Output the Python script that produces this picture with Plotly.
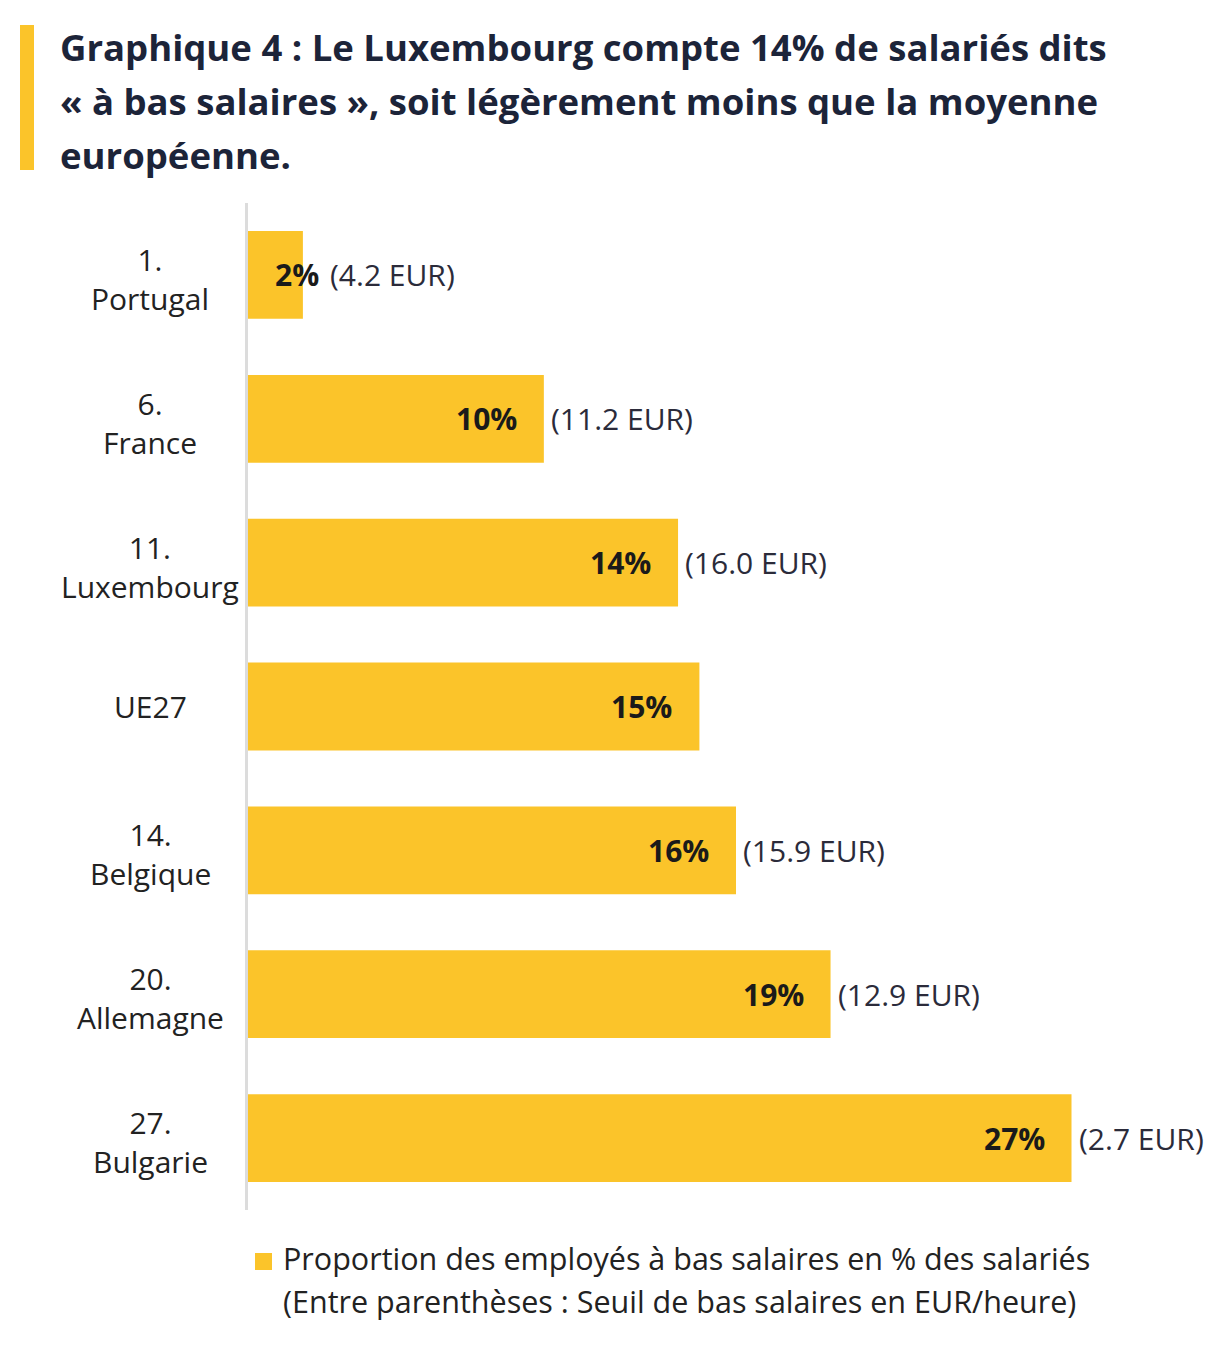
import plotly.graph_objects as go

# data
ranks = ["1.", "6.", "11.", "", "14.", "20.", "27."]
countries = ["Portugal", "France", "Luxembourg", "UE27", "Belgique", "Allemagne", "Bulgarie"]
share = [1.8, 9.7, 14.1, 14.8, 16.0, 19.1, 27.0]
share_labels = ["2%", "10%", "14%", "15%", "16%", "19%", "27%"]
threshold_labels = ["(4.2 EUR)", "(11.2 EUR)", "(16.0 EUR)", "", "(15.9 EUR)", "(12.9 EUR)", "(2.7 EUR)"]
title_lines = ["Graphique 4 : Le Luxembourg compte 14% de salariés dits",
               "« à bas salaires », soit légèrement moins que la moyenne",
               "européenne."]
legend_lines = ["Proportion des employés à bas salaires en % des salariés",
                "(Entre parenthèses : Seuil de bas salaires en EUR/heure)"]

YELLOW = "#FBC42A"
FONT = "Open Sans"
PW, PH = 915, 1007  # plot area in px


def px(sx):  # screen x -> paper
    return (sx - 248) / PW


def py(sy):  # screen y -> paper
    return (1210 - sy) / PH


fig = go.Figure()
fig.add_trace(go.Bar(
    y=countries, x=share, orientation="h",
    marker=dict(color=YELLOW, line=dict(width=0)),
    name=legend_lines[0],
    hoverinfo="x+y", showlegend=False,
))

annotations = []
for rk, c, v, sl, tl in zip(ranks, countries, share, share_labels, threshold_labels):
    # category label, centred on two lines
    lab = f"{rk}<br>{c}" if rk else c
    annotations.append(dict(x=px(150), xref="paper", y=c, yref="y", text=lab,
                            showarrow=False, xanchor="center", align="center",
                            yshift=-4 if rk else 0,
                            font=dict(family=FONT, size=30, color="#222222")))
    small = v < 3
    annotations.append(dict(x=v, y=c, text=f"<b>{sl}</b>", showarrow=False,
                            xanchor="right", xshift=18 if small else -25,
                            font=dict(family=FONT, size=30, color="#1a1a1a")))
    if tl:
        annotations.append(dict(x=v, y=c, text=tl, showarrow=False,
                                xanchor="left", xshift=25 if small else 5,
                                font=dict(family=FONT, size=30, color="#2b2b3a")))

# title
for line, sy in zip(title_lines, [47, 101, 155]):
    annotations.append(dict(x=px(58), xref="paper", y=py(sy), yref="paper",
                            text=f"<b>{line}</b>", showarrow=False,
                            xanchor="left", yanchor="middle",
                            font=dict(family=FONT, size=36.5, color="#1c2439")))

# legend
for line, sy in zip(legend_lines, [1258, 1301]):
    annotations.append(dict(x=px(281), xref="paper", y=py(sy), yref="paper",
                            text=line, showarrow=False,
                            xanchor="left", yanchor="middle",
                            font=dict(family=FONT, size=30.5, color="#222222")))

fig.update_layout(
    width=1216, height=1343,
    margin=dict(l=240, r=61, t=195, b=141),
    plot_bgcolor="white", paper_bgcolor="white",
    bargap=0.39,
    xaxis=dict(range=[0, 30], visible=False, fixedrange=True),
    yaxis=dict(categoryorder="array", categoryarray=countries[::-1],
               showticklabels=False, showline=True, linecolor="#dcdcdc", linewidth=3,
               showgrid=False, zeroline=False, ticks=""),
    showlegend=False,
    annotations=annotations,
    shapes=[
        dict(type="rect", xref="paper", yref="paper",
             x0=px(20), x1=px(34), y0=py(170), y1=py(25),
             fillcolor=YELLOW, line=dict(width=0)),
        dict(type="rect", xref="paper", yref="paper",
             x0=px(255), x1=px(272), y0=py(1270), y1=py(1253),
             fillcolor=YELLOW, line=dict(width=0)),
    ],
)

fig.write_html("out.html")
